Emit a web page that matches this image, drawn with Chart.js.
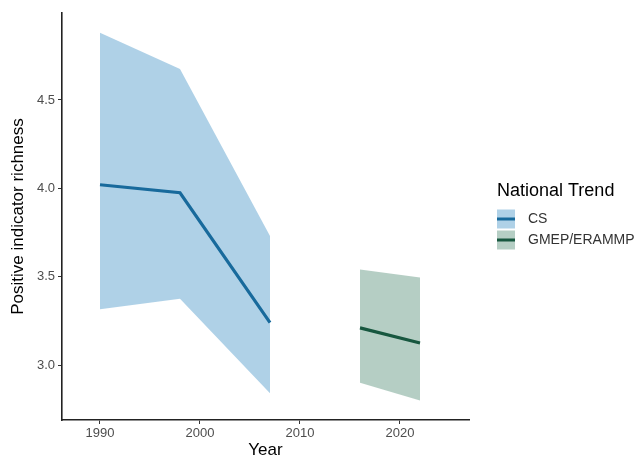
<!DOCTYPE html>
<html>
<head>
<meta charset="utf-8">
<script src="https://cdn.jsdelivr.net/npm/chart.js@4/dist/chart.umd.min.js"></script>
<style>
  html, body { margin: 0; padding: 0; background: #fff; }
  #wrap { width: 638px; height: 461px; position: relative; }
</style>
</head>
<body>
<div id="wrap"><canvas id="myChart" width="638" height="461"></canvas></div>
<script>
// values
const csYears = [1990, 1998, 2007];
const csMean = [4.02, 3.975, 3.24];
const csUpper = [4.88, 4.675, 3.73];
const csLower = [3.315, 3.375, 2.84];

const gmYears = [2016, 2022];
const gmMean = [3.21, 3.125];
const gmUpper = [3.54, 3.495];
const gmLower = [2.90, 2.80];

const xTicks = [1990, 2000, 2010, 2020];
const yTicks = [3.0, 3.5, 4.0, 4.5];

const seriesNames = ["CS", "GMEP/ERAMMP"];
const lineColors = ["#186a9c", "#17573f"];
const fillColors = ["rgba(110, 172, 212, 0.55)", "rgba(120, 165, 148, 0.55)"];
const FONT = "'Liberation Sans', Arial, sans-serif";

function pts(xs, ys) {
  return xs.map((x, i) => ({ x: x, y: ys[i] }));
}

function bandSets(xs, lo, mid, hi, k) {
  return [
    { label: seriesNames[k], data: pts(xs, mid), borderColor: lineColors[k], borderWidth: 3.2,
      pointRadius: 0, fill: false },
    { label: seriesNames[k] + " upper", data: pts(xs, hi), borderWidth: 0, pointRadius: 0,
      backgroundColor: fillColors[k], fill: "+1" },
    { label: seriesNames[k] + " lower", data: pts(xs, lo), borderWidth: 0, pointRadius: 0, fill: false }
  ];
}

// legend drawn by hand so it sits where the reference has it
const legendPlugin = {
  id: "trendLegend",
  afterDraw: function (chart) {
    const ctx = chart.ctx;
    ctx.save();
    ctx.fillStyle = "#000";
    ctx.font = "18px " + FONT;
    ctx.textBaseline = "middle";
    ctx.textAlign = "left";
    ctx.fillText("National Trend", 497, 191);
    seriesNames.forEach(function (name, i) {
      const y = 219 + i * 21;
      ctx.fillStyle = fillColors[i];
      ctx.fillRect(497, y - 9.5, 18, 19);
      ctx.strokeStyle = lineColors[i];
      ctx.lineWidth = 3;
      ctx.beginPath();
      ctx.moveTo(497, y);
      ctx.lineTo(515, y);
      ctx.stroke();
      ctx.fillStyle = "#333";
      ctx.font = "14px " + FONT;
      ctx.fillText(name, 528, y);
    });
    ctx.restore();
  }
};

const ctx = document.getElementById("myChart").getContext("2d");

new Chart(ctx, {
  type: "line",
  data: {
    datasets: bandSets(csYears, csLower, csMean, csUpper, 0)
      .concat(bandSets(gmYears, gmLower, gmMean, gmUpper, 1))
  },
  plugins: [legendPlugin],
  options: {
    responsive: false,
    animation: false,
    layout: { padding: { left: 0, top: 13, right: 169, bottom: 0 } },
    plugins: {
      legend: { display: false },
      tooltip: { enabled: false },
      filler: { drawTime: "beforeDatasetsDraw" }
    },
    elements: { line: { tension: 0 } },
    scales: {
      x: {
        type: "linear",
        min: 1986.2,
        max: 2026.9,
        afterBuildTicks: function (axis) {
          axis.ticks = xTicks.map(v => ({ value: v }));
        },
        afterFit: function (axis) { axis.height = 41; },
        grid: { drawOnChartArea: false, drawTicks: true, tickLength: 4, color: "#333", lineWidth: 1 },
        border: { display: true, color: "#222", width: 1.6 },
        ticks: { color: "#4d4d4d", font: { size: 13, family: FONT },
          padding: 2, maxRotation: 0,
          callback: v => String(v) },
        title: { display: true, text: "Year", color: "#000", padding: 0,
          font: { size: 17, family: FONT } }
      },
      y: {
        type: "linear",
        min: 2.689,
        max: 4.992,
        afterBuildTicks: function (axis) {
          axis.ticks = yTicks.map(v => ({ value: v }));
        },
        afterFit: function (axis) { axis.width = 62; },
        grid: { drawOnChartArea: false, drawTicks: true, tickLength: 4, color: "#333", lineWidth: 1 },
        border: { display: true, color: "#222", width: 1.6 },
        ticks: { color: "#4d4d4d", font: { size: 13, family: FONT },
          padding: 3, callback: v => v.toFixed(1) },
        title: { display: true, text: "Positive indicator richness", color: "#000",
          padding: { top: 8, bottom: 0 },
          font: { size: 17, family: FONT } }
      }
    }
  }
});
</script>
</body>
</html>
